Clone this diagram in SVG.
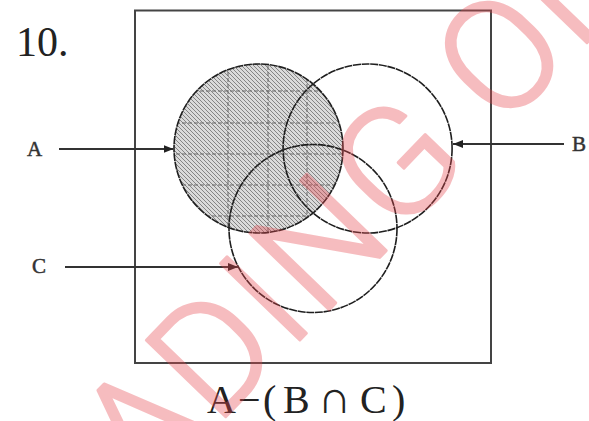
<svg xmlns="http://www.w3.org/2000/svg" width="589" height="421" viewBox="0 0 589 421">
  <style>
    .frame { fill: none; stroke: #444; stroke-width: 2; }
    .circle { fill: none; stroke: #1e1e1e; stroke-width: 1.6; stroke-dasharray: 8 0.7; }
    .grid { stroke: #666; stroke-width: 1; stroke-dasharray: 4 2; fill: none; }
    .conn { stroke: #333; stroke-width: 2; fill: none; }
    .lbl { font-family: "Liberation Serif", "Times New Roman", serif; fill: #222; }
    .side { font-size: 21px; fill: #333; stroke: #333; stroke-width: 0.5; }
    .wm { font-family: Roboto, "Open Sans", "Liberation Sans", sans-serif; font-weight: 300; font-size: 155px; letter-spacing: 3px; fill: #e8484f; stroke: #e8484f; stroke-width: 3; stroke-linejoin: round; }
  </style>
  <defs>
    <pattern id="hatch" patternUnits="userSpaceOnUse" width="4" height="4">
      <rect width="4" height="4" fill="#dadada"/>
      <path d="M-1,3 L1,5 M0,0 L4,4 M3,-1 L5,1" stroke="#7a7a7a" stroke-width="0.9"/>
    </pattern>
    <clipPath id="clipA">
      <circle cx="258.5" cy="148.5" r="84.5"/>
    </clipPath>
    <marker id="arrow" viewBox="0 0 10 8" refX="10" refY="4" markerWidth="10" markerHeight="8" markerUnits="userSpaceOnUse" orient="auto">
      <path d="M0,0 L10,4 L0,8 Z" fill="#222"/>
    </marker>
  </defs>

  <rect width="589" height="421" fill="#ffffff"/>

  <g id="title">
    <text class="lbl" x="16" y="56" font-size="42">10.</text>
  </g>

  <g id="universe">
    <rect class="frame" x="135" y="10.5" width="356" height="352.5"/>
  </g>

  <g id="node-A">
    <circle cx="258.5" cy="148.5" r="84.5" fill="url(#hatch)"/>
    <g clip-path="url(#clipA)" class="grid">
      <path d="M228,60 V240 M268,60 V240 M307,60 V240"/>
      <path d="M170,91 H350 M170,123 H350 M170,154 H350 M170,185 H350 M170,216 H350"/>
    </g>
    <circle class="circle" cx="258.5" cy="148.5" r="84.5"/>
  </g>

  <g id="node-B">
    <circle class="circle" cx="367.6" cy="148.5" r="84.5"/>
  </g>

  <g id="node-C">
    <circle class="circle" cx="313" cy="228.5" r="84"/>
  </g>

  <g id="connectors">
    <line class="conn" x1="59" y1="149" x2="173.5" y2="149" marker-end="url(#arrow)"/>
    <line class="conn" x1="564" y1="144" x2="453" y2="144" marker-end="url(#arrow)"/>
    <line class="conn" x1="65" y1="267" x2="238" y2="267" marker-end="url(#arrow)"/>
  </g>

  <g id="labels">
    <text class="lbl side" x="27" y="156">A</text>
    <text class="lbl side" x="572" y="151">B</text>
    <text class="lbl side" x="32" y="273">C</text>
  </g>

  <g id="caption">
    <text class="lbl" y="413" font-size="40"><tspan x="207">A</tspan><tspan x="238">−</tspan><tspan x="263">(</tspan><tspan x="283">B</tspan><tspan x="318" font-size="46">∩</tspan><tspan x="360">C</tspan><tspan x="392">)</tspan></text>
  </g>

  <g id="watermark" opacity="0.36">
    <text class="wm" transform="translate(146.7,498.6) rotate(-46)" x="0" y="0">ADING ON</text>
  </g>
</svg>
